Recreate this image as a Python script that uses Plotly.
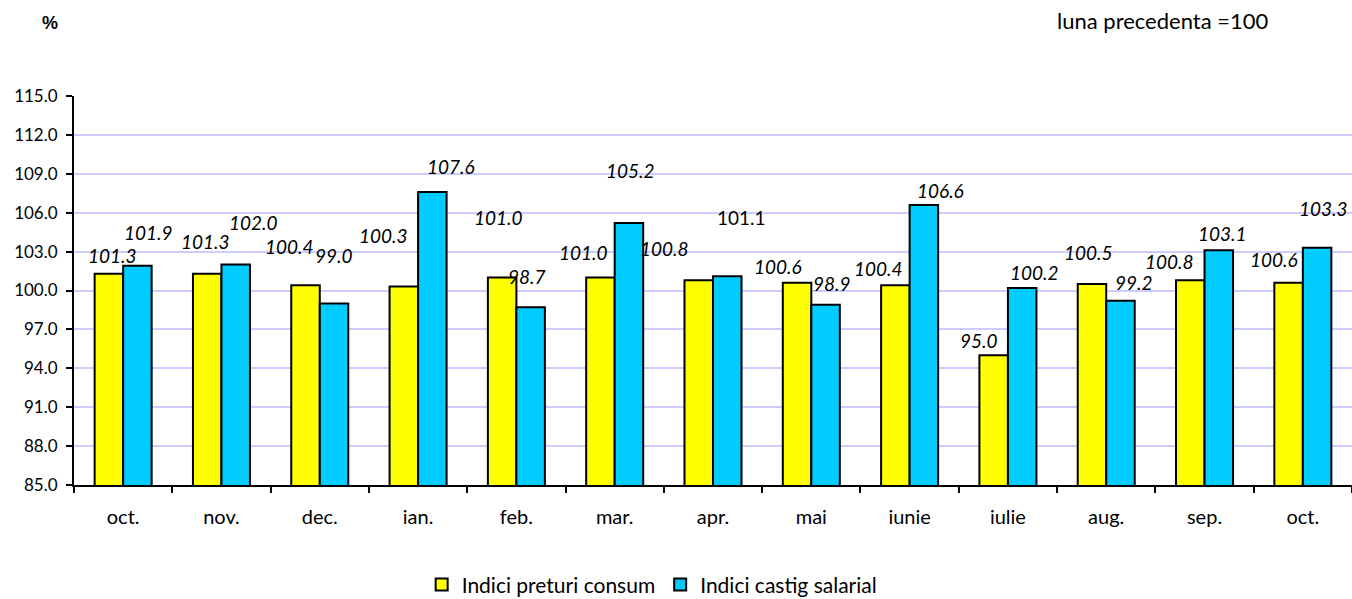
import plotly.graph_objects as go

months = ["oct.", "nov.", "dec.", "ian.", "feb.", "mar.", "apr.", "mai", "iunie", "iulie", "aug.", "sep.", "oct."]
preturi = [101.3, 101.3, 100.4, 100.3, 101.0, 101.0, 100.8, 100.6, 100.4, 95.0, 100.5, 100.8, 100.6]
castig = [101.9, 102.0, 99.0, 107.6, 98.7, 105.2, 101.1, 98.9, 106.6, 100.2, 99.2, 103.1, 103.3]
name_p = "Indici preturi consum"
name_c = "Indici castig salarial"
y_ticks = [85.0, 88.0, 91.0, 94.0, 97.0, 100.0, 103.0, 106.0, 109.0, 112.0, 115.0]

# label placement offsets (pixels relative to category centre / bar top)
p_dx = [-11, -16, -30, -35, -18, -31, -49, -33, -31, -29, -18, -35, -29]
p_dy = [18, 32, 39, 51, 60, 25, 32, 16, 17, 15, 32, 19, 23]
c_dx = [25, 32, 14, 33, 11, 16, 28, 21, 31, 27, 28, 18, 21]
c_dy = [33, 42, 48, 25, 31, 53, 59, 21, 14, 15, 18, 17, 39]
c_italic = [True, True, True, True, True, True, False, True, True, True, True, True, True]

FONT = "Lato"
idx = list(range(len(months)))

fig = go.Figure()
fig.add_trace(go.Bar(x=idx, y=preturi, name=name_p,
                     marker=dict(color="#FFFF00", line=dict(color="black", width=2))))
fig.add_trace(go.Bar(x=idx, y=castig, name=name_c,
                     marker=dict(color="#00CCFF", line=dict(color="black", width=2))))

ann = []
for i in idx:
    ann.append(dict(x=i, y=preturi[i], xref="x", yref="y", text=f"<i>{preturi[i]:.1f}</i>", showarrow=False,
                    xshift=p_dx[i], yshift=p_dy[i], yanchor="middle", xanchor="center",
                    font=dict(family=FONT, size=19, color="black")))
    t = f"{castig[i]:.1f}"
    if c_italic[i]:
        t = f"<i>{t}</i>"
    ann.append(dict(x=i, y=castig[i], xref="x", yref="y", text=t, showarrow=False,
                    xshift=c_dx[i], yshift=c_dy[i], yanchor="middle", xanchor="center",
                    font=dict(family=FONT, size=19, color="black")))
ann.append(dict(x=-0.0188, y=1.188, xref="paper", yref="paper", text="<b>%</b>", showarrow=False,
                xanchor="center", yanchor="middle", font=dict(family="Liberation Sans", size=18, color="black")))
ann.append(dict(x=0.8523, y=1.193, xref="paper", yref="paper", text="luna precedenta =100", showarrow=False,
                xanchor="center", yanchor="middle", font=dict(family=FONT, size=22, color="black")))

fig.update_layout(
    width=1352, height=599,
    margin=dict(l=74, r=0, t=96, b=114, autoexpand=False),
    paper_bgcolor="white", plot_bgcolor="white",
    barmode="group", bargap=0.42, bargroupgap=0.0,
    font=dict(family=FONT, size=19, color="black"),
    showlegend=True,
    legend=dict(orientation="h", x=0.452, y=-0.257, xanchor="center", yanchor="middle",
                font=dict(family=FONT, size=21), itemwidth=30, tracegroupgap=0, traceorder="normal"),
    annotations=ann,
)
fig.update_xaxes(
    automargin=False,
    range=[-0.5, len(months) - 0.5], tickmode="array", tickvals=idx, ticktext=months, ticks="",
    showline=True, linecolor="black", linewidth=2, showgrid=False, zeroline=False,
    ticklabelstandoff=13,
    minor=dict(tickmode="array", tickvals=[i - 0.5 for i in range(len(months) + 1)], ticks="outside",
               ticklen=6, tickwidth=2, tickcolor="black", showgrid=False),
    tickfont=dict(family=FONT, size=20),
)
fig.update_yaxes(
    automargin=False,
    range=[85, 115], tickmode="array", tickvals=y_ticks, ticktext=[f"{v:.1f}" for v in y_ticks],
    ticks="outside", ticklen=6, tickwidth=2, tickcolor="black",
    showline=True, linecolor="black", linewidth=2,
    showgrid=True, gridcolor="#CCCCFF", gridwidth=2, zeroline=False,
    ticklabelstandoff=5,
    tickfont=dict(family=FONT, size=17),
)
fig.write_html("out.html", config={"displayModeBar": False},
               post_script="document.body.style.margin='0';document.body.style.overflow='hidden';")
